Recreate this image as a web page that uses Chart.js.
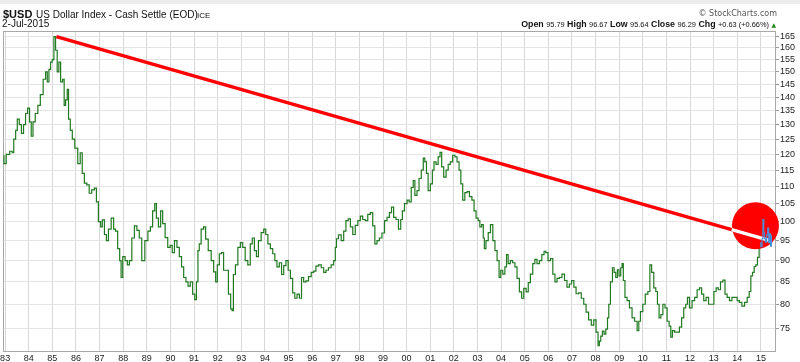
<!DOCTYPE html>
<html>
<head>
<meta charset="utf-8">
<script src="https://cdn.jsdelivr.net/npm/chart.js@4"></script>
<style>
    body { margin: 0; background: #fff; }
    #wrap { position: relative; width: 800px; height: 362px; overflow: hidden; font-family: 'Liberation Sans', Arial, sans-serif; color: #111; }
    #band { position: absolute; left: 0; top: 0; width: 800px; height: 4px; background: #ececec; }
    .t { position: absolute; white-space: nowrap; line-height: 1; }
    .b { font-weight: bold; font-size: 8.8px; }
    .n { font-size: 7.4px; }
    #chartBox { position: absolute; left: 0; top: 0; width: 800px; height: 362px; }
</style>
</head>
<body>
<div id="wrap">
    <div id="band"></div>
    <div id="chartBox"><canvas id="usdChart"></canvas></div>
    <div class="t" style="left:3px; top:8.8px; font-size:11px; font-weight:bold;">$USD</div>
    <div class="t" style="left:36px; top:9.8px; font-size:10px;">US Dollar Index - Cash Settle (EOD)</div>
    <div class="t" style="left:197px; top:11.5px; font-size:8px;">ICE</div>
    <div class="t" style="left:2px; top:18.5px; font-size:10px;">2-Jul-2015</div>
    <div class="t" style="right:23px; top:9.5px; font-size:8px; color:#555; font-family:'DejaVu Sans', sans-serif;">&copy; StockCharts.com</div>
    <div class="t" style="right:24px; top:19.8px; font-size:8.8px;"><span class="b">Open</span> <span class="n">95.79</span> <span class="b">High</span> <span class="n">96.67</span> <span class="b">Low</span> <span class="n">95.64</span> <span class="b">Close</span> <span class="n">96.29</span> <span class="b">Chg</span> <span class="n">+0.63 (+0.66%)</span> <span style="font-family:'DejaVu Sans'; font-size:6px; color:#1b8a1b;">&#9650;</span></div>
</div>
<script>
// dollar index readings (decimal year / level)
const d1980s = [1982.92,1982.98,1983.11,1983.28,1983.32,1983.41,1983.48,1983.55,1983.65,1983.73,1983.83,1983.90,
    1984.00,1984.07,1984.14,1984.22,1984.33,1984.44,1984.54,1984.68,1984.75,1984.82,1984.89,1984.96,
    1985.03,1985.10,1985.17,1985.24,1985.31,1985.39,1985.48,1985.52,1985.60,1985.66,1985.71,1985.81,1985.88,
    1986.02,1986.13,1986.23,1986.30,1986.41,1986.51,1986.61,1986.72,1986.84,1986.89,
    1987.01,1987.08,1987.15,1987.26,1987.32,1987.43,1987.55,1987.64,1987.71,1987.82,1987.88,1987.94,
    1988.02,1988.14,1988.21,1988.31,1988.42,1988.53,1988.63,1988.73,1988.84,1988.99,
    1989.10,1989.20,1989.29,1989.38,1989.43,1989.55,1989.62,1989.72,1989.83,1989.94];
const v1980s = [119.5,117,120,121,120.5,125,128,132,130,127,130,134,
    136,131,126,131,134,137,141,147,150,146,151,154,
    155,165,159,150,154,146,147,137,139,143,132,128,125,
    122,117,120.5,114,111,110.5,108,109,109.5,105.5,
    100,98.6,100.5,96.6,95,98,101,98,97.5,93,90,86,
    91,90,89,90,95.7,98.9,97.7,95.7,90,95,
    97.5,98.6,103,105,101,98.6,103,99.5,95.8,93.3];

const d1990s = [1990.04,1990.11,1990.23,1990.32,1990.43,1990.51,1990.61,1990.70,1990.79,1990.89,1990.99,
    1991.07,1991.13,1991.20,1991.24,1991.36,1991.45,1991.53,1991.67,1991.78,1991.88,1991.95,
    1992.02,1992.12,1992.20,1992.30,1992.40,1992.51,1992.59,1992.63,1992.70,1992.80,1992.91,
    1993.01,1993.11,1993.22,1993.33,1993.43,1993.50,1993.61,1993.67,1993.78,1993.90,
    1994.00,1994.07,1994.18,1994.28,1994.38,1994.46,1994.56,1994.66,1994.75,1994.84,1994.94,
    1995.03,1995.13,1995.22,1995.31,1995.41,1995.51,1995.59,1995.69,1995.79,1995.90,
    1996.02,1996.11,1996.21,1996.33,1996.44,1996.54,1996.63,1996.75,1996.86,1996.96,
    1997.00,1997.06,1997.17,1997.29,1997.38,1997.48,1997.57,1997.67,1997.77,1997.88,1997.99,
    1998.09,1998.19,1998.30,1998.41,1998.52,1998.61,1998.70,1998.79,1998.90,
    1999.01,1999.12,1999.22,1999.32,1999.40,1999.50,1999.60,1999.71,1999.79,1999.85,1999.97];
const v1990s = [93.8,92,95,93.3,91,88.5,86,85,84,85,82.2,
    81,85,92.5,94.2,98,98.6,95.4,92.5,90,87.3,85,
    89,91.7,92,87.7,87.7,82.2,79,78.6,86.7,89,93.3,
    94.5,93.3,90,89,94.2,95.7,92.5,91,95,97.1,
    98,96.6,94.2,93,91.7,90,88.5,89.5,86.7,88.8,90,
    87.7,85.8,82.5,81.3,82.2,81.3,86,85,85.2,86.2,
    87.2,87.5,88.7,89,88.3,87.2,87.7,88.3,89,90,
    93.3,95.5,96.5,95,97.5,100.3,100.8,98.6,96.6,99,100.3,
    101.5,100.6,100.3,102,102.5,98.9,94.2,95,95.7,
    97,100.3,101.2,102.5,104,101.2,100.6,98,100.6,103,105];

const d2000s = [2000.07,2000.14,2000.25,2000.31,2000.39,2000.49,2000.56,2000.68,2000.73,2000.81,2000.87,2000.95,
    2001.06,2001.12,2001.20,2001.29,2001.38,2001.45,2001.52,2001.62,2001.72,2001.80,2001.90,
    2002.00,2002.09,2002.18,2002.26,2002.33,2002.42,2002.51,2002.61,2002.71,2002.82,2002.89,2002.99,
    2003.07,2003.13,2003.22,2003.27,2003.31,2003.41,2003.50,2003.60,2003.70,2003.78,2003.88,2003.95,
    2004.02,2004.12,2004.20,2004.26,2004.34,2004.44,2004.54,2004.63,2004.72,2004.83,2004.91,
    2005.01,2005.11,2005.19,2005.29,2005.39,2005.47,2005.57,2005.67,2005.78,2005.86,2005.93,
    2006.04,2006.14,2006.24,2006.32,2006.42,2006.52,2006.63,2006.74,2006.84,2006.94,
    2007.03,2007.13,2007.22,2007.34,2007.45,2007.55,2007.65,2007.76,2007.88,2007.97,
    2008.07,2008.14,2008.18,2008.26,2008.32,2008.40,2008.47,2008.54,2008.58,2008.68,2008.75,2008.82,2008.89,2008.96,
    2009.03,2009.10,2009.15,2009.20,2009.29,2009.38,2009.49,2009.60,2009.71,2009.81,2009.85,2009.95];
const v2000s = [106,105.5,109.7,111.8,107.4,108.8,112.4,115,118.8,117.6,114,108.8,
    110.8,115,117.6,116.8,119.2,120.6,116,112.8,115,116.8,117.6,
    119.7,119.2,117.6,115,110.8,106,108.2,108.5,107,106,103,101,
    100.3,98.6,99.2,95.7,93,95,97.1,99.2,95,92.5,90,86,
    87.7,86.8,88.5,91.5,89.3,90,89.5,88.5,85.8,82.7,81.3,
    83.5,82.7,84.8,86.8,89.3,90.3,89.3,90,91.5,92.3,92,
    90,90.5,86.8,85,85.8,86,86.8,85.3,83.8,84.5,
    85.3,83.8,82.3,82.5,81.3,80,78.3,76.7,75.6,76.7,
    74.2,71.5,72.4,73.4,74.4,73.8,74.8,77.1,80,85,88.3,87.2,86,87.8,
    86.4,88.3,89.3,85.3,81.5,80.8,79.2,77.1,76.4,74.5,76.4,78.4];

const d2010s = [2010.05,2010.16,2010.27,2010.33,2010.42,2010.51,2010.59,2010.65,2010.73,2010.80,2010.90,2010.98,
    2011.08,2011.15,2011.22,2011.29,2011.40,2011.50,2011.60,2011.69,2011.78,2011.86,2011.92,
    2012.03,2012.14,2012.25,2012.35,2012.45,2012.53,2012.63,2012.73,2012.84,2012.96,
    2013.06,2013.15,2013.24,2013.34,2013.44,2013.52,2013.62,2013.72,2013.83,2013.95,
    2014.04,2014.14,2014.25,2014.37,2014.47,2014.54,2014.61,2014.68,2014.75,2014.82,2014.89,2014.96];
const v2010s = [80,82.2,82.8,89,87.2,83.6,82.8,80,77.1,77.8,80,79.2,
    76.4,75.4,73.2,74.5,74.2,74.2,75.2,77.1,79.2,80,81.5,
    79.2,80.8,81.5,83.2,83.6,82.2,80.8,81.5,80,80,
    82.8,83.6,83.2,85,85.4,82.2,81.5,80.8,81.5,81.5,
    80.8,80.4,79.6,80.4,81.5,82.8,86.4,87.2,88.6,89,90.8,94.4];

// latest bars (blue)
const d2015 = [2014.96,2015.03,2015.07,2015.10,2015.14,2015.17,2015.22,2015.27,2015.31,2015.35,2015.39,2015.43,2015.46];
const v2015 = [94.4,93.5,95.5,100.6,97,95.5,94.6,96.5,98.3,94.5,96.8,93.6,96.3];

// trendline drawn on the chart
const trendDates = [1985.17, 2015.39];
const trendValues = [165, 95];
const trendInCircleDates = [2013.76, 2015.39];
const trendInCircleValues = [97.9, 95];
const circleDate = 2014.77;
const circleValue = 98.9;

const yearTicks = [];
for (let y = 1983; y <= 2015; y++) yearTicks.push(y);
const levelTicks = [75, 80, 85, 90, 95, 100, 105, 110, 115, 120, 125, 130, 135, 140, 145, 150, 155, 160, 165];

function toPoints(dates, values) {
    return dates.map((d, i) => ({ x: d, y: values[i] }));
}

const framePlugin = {
    id: 'frame',
    beforeDatasetsDraw(chart) {
        const { ctx, chartArea: a } = chart;
        ctx.save();
        ctx.strokeStyle = '#a8a8a8';
        ctx.lineWidth = 1;
        ctx.strokeRect(Math.round(a.left) + 0.5, Math.round(a.top) + 0.5,
            Math.round(a.right - a.left) - 1, Math.round(a.bottom - a.top) - 1);
        ctx.restore();
    }
};

document.addEventListener('DOMContentLoaded', function() {
    const green = toPoints(d1980s, v1980s)
        .concat(toPoints(d1990s, v1990s))
        .concat(toPoints(d2000s, v2000s))
        .concat(toPoints(d2010s, v2010s));

    const ctx = document.getElementById('usdChart').getContext('2d');
    new Chart(ctx, {
        type: 'line',
        data: {
            datasets: [
                {
                    data: toPoints(d2015, v2015),
                    borderColor: '#4a8fd8',
                    borderWidth: 1.2,
                    pointRadius: 0,
                    stepped: 'middle',
                    order: 1
                },
                {
                    data: toPoints(trendInCircleDates, trendInCircleValues),
                    borderColor: '#ffffff',
                    borderWidth: 3.5,
                    pointRadius: 0,
                    order: 2
                },
                {
                    type: 'bubble',
                    data: [{ x: circleDate, y: circleValue, r: 23.5 }],
                    backgroundColor: '#ff0000',
                    borderWidth: 0,
                    hoverRadius: 0,
                    clip: false,
                    order: 3
                },
                {
                    data: toPoints(trendDates, trendValues),
                    borderColor: '#ff0000',
                    borderWidth: 3.5,
                    pointRadius: 0,
                    order: 4
                },
                {
                    data: green,
                    borderColor: '#217a21',
                    borderWidth: 1.2,
                    pointRadius: 0,
                    stepped: 'middle',
                    order: 5
                }
            ]
        },
        options: {
            responsive: true,
            maintainAspectRatio: false,
            devicePixelRatio: 1,
            animation: false,
            events: [],
            layout: { autoPadding: false, padding: { left: 3, top: 31, right: 0, bottom: 0 } },
            plugins: {
                legend: { display: false },
                tooltip: { enabled: false }
            },
            scales: {
                x: {
                    type: 'linear',
                    min: 1982.91,
                    max: 2015.64,
                    border: { display: false },
                    grid: { color: '#d8d8d8', drawTicks: false },
                    afterBuildTicks: axis => { axis.ticks = yearTicks.map(v => ({ value: v })); },
                    afterFit: axis => { axis.height = 10.5; axis.paddingLeft = 0; axis.paddingRight = 0; },
                    ticks: {
                        autoSkip: false,
                        maxRotation: 0,
                        minRotation: 0,
                        padding: 2,
                        color: '#222',
                        font: { family: "'Liberation Sans', Arial, sans-serif", size: 9 },
                        callback: v => String(v % 100).padStart(2, '0')
                    }
                },
                y: {
                    type: 'logarithmic',
                    position: 'right',
                    min: 70.4,
                    max: 167.5,
                    border: { display: false },
                    grid: { color: '#e4e4e4', drawTicks: true, tickLength: 3, tickColor: '#999' },
                    afterBuildTicks: axis => { axis.ticks = levelTicks.map(v => ({ value: v })); },
                    afterFit: axis => { axis.width = 24; axis.paddingTop = 0; axis.paddingBottom = 0; },
                    ticks: {
                        padding: 1,
                        color: '#222',
                        font: { family: "'Liberation Sans', Arial, sans-serif", size: 9 },
                        callback: v => String(v)
                    }
                }
            }
        },
        plugins: [framePlugin]
    });
});
</script>
</body>
</html>
